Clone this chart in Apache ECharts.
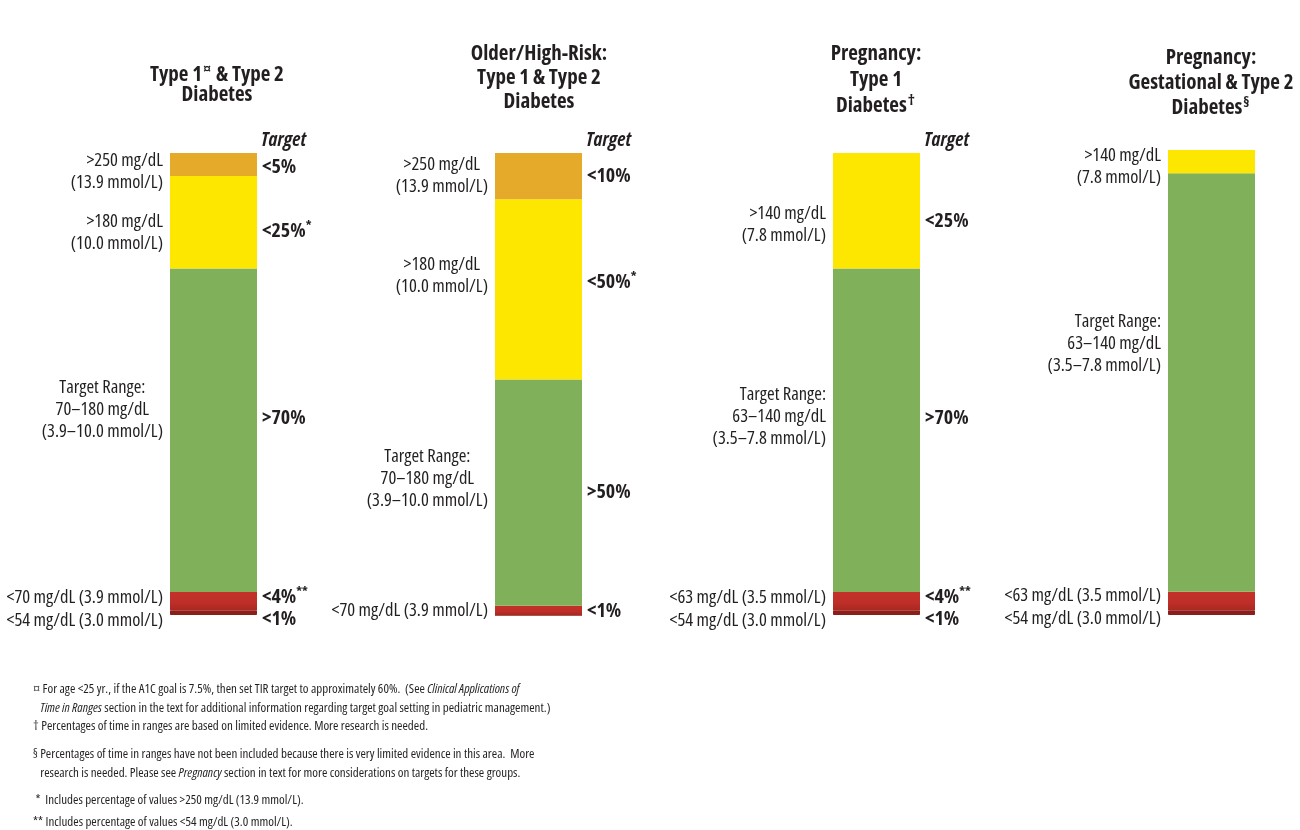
<!DOCTYPE html>
<html><head><meta charset="utf-8">
<script src="https://cdn.jsdelivr.net/npm/echarts@6/dist/echarts.min.js"></script>
<style>html,body{margin:0;padding:0;background:#fff}#c{width:1300px;height:830px}</style>
</head><body><div id="c"></div>
<script>
// ---------------- DATA ----------------
const categories = [
  'Type 1 & Type 2 Diabetes',
  'Older/High-Risk: Type 1 & Type 2 Diabetes',
  'Pregnancy: Type 1 Diabetes',
  'Pregnancy: Gestational & Type 2 Diabetes'
];
const titleLines = [
  ['Type 1¤ & Type 2', 'Diabetes'],
  ['Older/High-Risk:', 'Type 1 & Type 2', 'Diabetes'],
  ['Pregnancy:', 'Type 1', 'Diabetes†'],
  ['Pregnancy:', 'Gestational & Type 2', 'Diabetes§']
];
// segments, bottom to top
const segmentNames = ['Very low', 'Low', 'Target range', 'High', 'Very high'];
// % of time per segment (bottom -> top)
const valuesP1 = [1, 4, 70, 20, 5];
const valuesP2 = [0, 2, 49, 39, 10];
const valuesP3 = [1, 4, 70, 25, 0];
const valuesP4 = [1, 4, 90, 5, 0];
const leftLabelsP1 = ['<54 mg/dL (3.0 mmol/L)', '<70 mg/dL (3.9 mmol/L)', 'Target Range:\n70–180 mg/dL\n(3.9–10.0 mmol/L)', '>180 mg/dL\n(10.0 mmol/L)', '>250 mg/dL\n(13.9 mmol/L)'];
const leftLabelsP2 = ['', '<70 mg/dL (3.9 mmol/L)', 'Target Range:\n70–180 mg/dL\n(3.9–10.0 mmol/L)', '>180 mg/dL\n(10.0 mmol/L)', '>250 mg/dL\n(13.9 mmol/L)'];
const leftLabelsP3 = ['<54 mg/dL (3.0 mmol/L)', '<63 mg/dL (3.5 mmol/L)', 'Target Range:\n63–140 mg/dL\n(3.5–7.8 mmol/L)', '>140 mg/dL\n(7.8 mmol/L)', ''];
const leftLabelsP4 = ['<54 mg/dL (3.0 mmol/L)', '<63 mg/dL (3.5 mmol/L)', 'Target Range:\n63–140 mg/dL\n(3.5–7.8 mmol/L)', '>140 mg/dL\n(7.8 mmol/L)', ''];
const targetLabelsP1 = ['<1%', '<4%**', '>70%', '<25%*', '<5%'];
const targetLabelsP2 = ['', '<1%', '>50%', '<50%*', '<10%'];
const targetLabelsP3 = ['<1%', '<4%**', '>70%', '<25%', ''];
const targetLabelsP4 = ['', '', '', '', ''];
const targetHeader = 'Target';
const footnotes = [
  '¤ For age <25 yr., if the A1C goal is 7.5%, then set TIR target to approximately 60%.  (See {i|Clinical Applications of}',
  '   {i|Time in Ranges} section in the text for additional information regarding target goal setting in pediatric management.)',
  '† Percentages of time in ranges are based on limited evidence. More research is needed.',
  '§ Percentages of time in ranges have not been included because there is very limited evidence in this area.  More',
  '   research is needed. Please see {i|Pregnancy} section in text for more considerations on targets for these groups.',
  ' *  Includes percentage of values >250 mg/dL (13.9 mmol/L).',
  '** Includes percentage of values <54 mg/dL (3.0 mmol/L).'
];

// ---------------- LAYOUT / STYLE ----------------
const values = [valuesP1, valuesP2, valuesP3, valuesP4];
const leftLabels = [leftLabelsP1, leftLabelsP2, leftLabelsP3, leftLabelsP4];
const targetLabels = [targetLabelsP1, targetLabelsP2, targetLabelsP3, targetLabelsP4];
const FONT = '"Open Sans", "Liberation Sans", sans-serif';
const REG = 'condensed', BOLD = 'bold condensed';
const TXT = '#231f20';
const segmentColors = [
  '#8c1e1a',
  {type: 'linear', x: 0, y: 0, x2: 0, y2: 1, colorStops: [{offset: 0, color: '#c4312a'}, {offset: 0.6, color: '#be2e28'}, {offset: 1, color: '#a82822'}]},
  '#80b15a', '#fde600', '#e6aa2b'
];
const segmentBorders = ['#8c1e1a', null, null, null, null];
const grids = [
  {left: 170, top: 153, width: 87, height: 462},
  {left: 495, top: 153, width: 87, height: 462},
  {left: 833, top: 153, width: 87, height: 462},
  {left: 1168, top: 150, width: 87, height: 465}
];
const leftNudge = [[8, -3, -20, 10, 7], [0, 0, -14, -14, 0], [8, -3, -13, 14, 0], [6, -5, -39, 5, 0]];
const rightNudge = [[7, -4, -12, 9, 3], [0, 1, 0, -7, 0], [7, -4, -12, 11, 0], [0, 0, 0, 0, 0]];
const centerLines = [[0, 0, 1, 0, 0], [0, 0, 1, 1, 1], [0, 0, 0, 0, 0], [0, 0, 0, 0, 0]];
const titleX = [217, 539, 876, 1211];
const titleTop = [65, 42, 41, 45.5];
const titleLH = [20, 24, 26, 25];
const footY = [689, 708, 726, 754, 773, 800, 822];

function leftFmt(text, centered) {
  const tag = centered ? 'c' : 'r';
  return text.split('\n').map(l => '{' + tag + '|' + l + '}').join('\n');
}
function rightFmt(text) {
  const m = text.match(/^(.*?)(\*+)$/);
  if (m) return '{b|' + m[1] + '}{s|' + m[2] + '}';
  return '{b|' + text + '}';
}
function titleFmt(line) {
  return line.replace(/([^¤†§]+)|([¤†§])/g, (all, a, b) => a ? '{t|' + a + '}' : '{u|' + b + '}');
}

const xAxis = [], yAxis = [], series = [];
values.forEach((vals, p) => {
  xAxis.push({type: 'category', gridIndex: p, data: [categories[p]], show: false});
  yAxis.push({type: 'value', gridIndex: p, min: 0, max: 100, show: false});
  vals.forEach((v, s) => {
    const lt = leftLabels[p][s];
    const itemStyle = {color: segmentColors[s]};
    if (segmentBorders[s]) { itemStyle.borderColor = segmentBorders[s]; itemStyle.borderWidth = 1; }
    series.push({
      type: 'bar', name: segmentNames[s], xAxisIndex: p, yAxisIndex: p, stack: 'bars' + p,
      barWidth: '100%', barGap: '-100%', barCategoryGap: 0,
      data: [v], itemStyle,
      label: {
        show: !!lt && v > 0, position: 'left', distance: 7, offset: [0, leftNudge[p][s]],
        formatter: () => leftFmt(lt, centerLines[p][s]),
        rich: {
          r: {fontFamily: FONT, fontWeight: REG, fontSize: 18.5, lineHeight: 22, color: TXT, align: 'right'},
          c: {fontFamily: FONT, fontWeight: REG, fontSize: 18.5, lineHeight: 22, color: TXT, align: 'center'}
        }
      }
    });
  });
  vals.forEach((v, s) => {
    const rt = targetLabels[p][s];
    const ser = {
      type: 'bar', name: segmentNames[s] + ' target', xAxisIndex: p, yAxisIndex: p, stack: 'targets' + p,
      barWidth: '100%', barGap: '-100%', barCategoryGap: 0,
      data: [v], itemStyle: {color: 'rgba(0,0,0,0)'},
      label: {
        show: !!rt && v > 0, position: 'right', distance: 5, offset: [0, rightNudge[p][s]],
        formatter: () => rightFmt(rt),
        rich: {
          b: {fontFamily: FONT, fontSize: 20, fontWeight: BOLD, color: TXT},
          s: {fontFamily: FONT, fontSize: 13, fontWeight: BOLD, color: TXT, padding: [0, 0, 10, 0]}
        }
      }
    };
    if (s === 4 && p < 3) {
      ser.markPoint = {
        symbol: 'rect', symbolSize: 1, itemStyle: {color: 'rgba(0,0,0,0)'},
        label: {show: true, position: 'right', distance: 0, offset: [47, -13], formatter: targetHeader,
          fontFamily: FONT, fontSize: 19.5, fontWeight: BOLD, fontStyle: 'italic', color: TXT},
        data: [{coord: [0, 100]}]
      };
    }
    series.push(ser);
  });
});

const graphic = [];
titleLines.forEach((lines, p) => {
  graphic.push({
    type: 'text', x: titleX[p], y: titleTop[p],
    style: {
      text: lines.map(titleFmt).join('\n'), align: 'center', verticalAlign: 'top',
      rich: {
        t: {fontFamily: FONT, fontSize: 21, fontWeight: BOLD, fill: TXT, lineHeight: titleLH[p]},
        u: {fontFamily: FONT, fontSize: 15, fontWeight: BOLD, fill: TXT, lineHeight: titleLH[p], padding: [0, 1, 10, 1]}
      }
    }
  });
});
footnotes.forEach((line, i) => {
  graphic.push({
    type: 'text', x: 33, y: footY[i],
    style: {
      text: '{n|' + line.replace(/\{i\|([^}]*)\}/g, '}{i|$1}{n|') + '}', verticalAlign: 'middle',
      rich: {
        n: {fontFamily: FONT, fontWeight: REG, fontSize: 13, fill: TXT},
        i: {fontFamily: FONT, fontWeight: REG, fontSize: 13, fontStyle: 'italic', fill: TXT}
      }
    }
  });
});

const grid = grids.map(g => Object.assign({containLabel: false}, g));
const chart = echarts.init(document.getElementById('c'), null, {renderer: 'canvas'});
chart.setOption({
  backgroundColor: '#ffffff', animation: false,
  grid, xAxis, yAxis, series, graphic
});
</script></body></html>
